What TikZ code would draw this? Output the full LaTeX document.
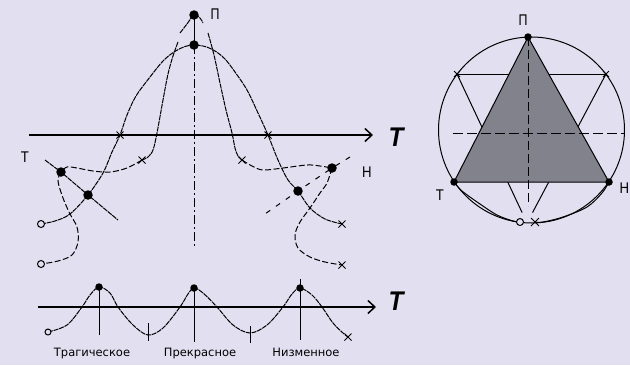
\documentclass[tikz,border=0pt]{standalone}
\usepackage{fontspec}
\usepackage{graphicx}
\setmainfont{DejaVu Sans}
\newfontfamily\labfont{Liberation Sans}
\usetikzlibrary{arrows.meta,calc,shapes.misc}
\definecolor{bg}{RGB}{226,224,240}
\definecolor{trifill}{RGB}{130,130,140}
\begin{document}
\begin{tikzpicture}[x=1pt,y=-1pt,line width=1pt,
  curveA/.style={line width=1pt,dash pattern=on 5pt off 0.8pt},
  curveB/.style={line width=1pt,dash pattern=on 6pt off 2.5pt},
  sparse/.style={line width=1pt,dash pattern=on 5pt off 7pt},
  dashdotv/.style={line width=1pt,dash pattern=on 9pt off 3pt on 2pt off 3pt},
  axisline/.style={line width=1.1pt,-{Straight Barb[length=7pt,width=13pt,line width=1.5pt]}},
  bigdot/.style={circle,fill=black,inner sep=0pt,minimum size=9.5pt},
  smalldot/.style={circle,fill=black,inner sep=0pt,minimum size=7.5pt},
  opendot/.style={circle,draw=black,fill=bg,line width=1pt,inner sep=0pt,minimum size=7pt},
  xm/.style={cross out,draw=black,line width=1pt,inner sep=0pt,minimum size=6pt},
  letter/.style={font=\labfont\fontsize{15.5}{15.5}\selectfont,inner sep=0pt},
  bigT/.style={font=\labfont\bfseries\itshape\fontsize{27}{27}\selectfont,inner sep=0pt},
  caption/.style={font=\fontsize{11.5}{12}\selectfont,inner sep=0pt,anchor=base}]
\fill[bg] (0,0) rectangle (630,365);
\useasboundingbox (0,0) rectangle (630,365);

% ---------- left diagram ----------
\coordinate (P0) at (194,15);
\coordinate (PA) at (194,45);
\coordinate (T) at (61,172);
\coordinate (L) at (88,195);
\coordinate (H) at (332,168);
\coordinate (R) at (298,191);
\coordinate (O1) at (41,224);
\coordinate (O2) at (41,264);
\coordinate (X1) at (342,224);
\coordinate (X2) at (342,265);
\coordinate (VB) at (194,248);

\draw[axisline] (29,135) coordinate (ax1) -- (373,135) coordinate (ax2);
\node[bigT] (TT1) at (396,137) {\scalebox{0.9}[1]{T}};

% bell A
\draw[curveA] plot[smooth,tension=0.55] coordinates {(O1) (55,221) (70,214) (L) (103,173) (112,152) (120,135) (127,115) (136,96) (150,77) (163,61) (174,52) (185,46.5) (PA) (205,46.5) (215,51) (225,59) (235,72) (247,90) (258,113) (268,135) (278,160) (288,180) (R) (310,208) (325,219) (X1)};

% bell B cap and sides
\draw[curveA] plot[smooth,tension=0.6] coordinates {(180,33) (187,24) (P0) (200,18) (203,23)};
\draw[curveA] plot[smooth,tension=0.55] coordinates {(178,42) (173,56) (168,74) (163,100) (157,133) (153,150) (148,157) (142,160)};
\draw[curveB] plot[smooth,tension=0.55] coordinates {(142,160) (127,168) (110,172) (93,171) (77,168) (67,167) (T)};
\draw[curveB] plot[smooth,tension=0.55] coordinates {(T) (58,181) (63,198) (70,214) (77,227) (78,242) (72,255) (58,261) (O2)};
\draw[curveA] plot[smooth,tension=0.55] coordinates {(208,33) (214,55) (220,83) (226,110) (232,133) (235,148) (238,156) (242,160)};
\draw[curveB] plot[smooth,tension=0.55] coordinates {(242,160) (252,166) (263,170) (283,168) (307,165) (320,166) (H)};
\draw[curveB] plot[smooth,tension=0.55] coordinates {(H) (327,183) (320,193) (310,208) (300,222) (295,235) (298,248) (310,257) (325,262) (X2)};

% tangents
\draw[curveA] (45,160) -- (T) -- (L) -- (118,220);
\draw[sparse] (350,157) -- (H) -- (R) -- (262,216);

% vertical axis
\draw (P0) -- (PA);
\draw[dashdotv] (PA) -- (VB);

% marks
\node[bigdot] (dP0) at (P0) {};
\node[bigdot] (dPA) at (PA) {};
\node[bigdot] (dT) at (T) {};
\node[bigdot] (dL) at (L) {};
\node[bigdot] (dH) at (H) {};
\node[bigdot] (dR) at (R) {};
\node[opendot] (o1) at (O1) {};
\node[opendot] (o2) at (O2) {};
\node[xm] (x1) at (X1) {};
\node[xm] (x2) at (X2) {};
\node[xm] (xa) at (120,135) {};
\node[xm] (xb) at (142,160) {};
\node[xm] (xc) at (242,160) {};
\node[xm] (xd) at (268,135) {};

\node[letter] (lT) at (25,157) {\scalebox{0.85}[1]{Т}};
\node[letter] (lH) at (367,172) {\scalebox{0.85}[1]{Н}};
\node[letter] (lP) at (215,14) {\scalebox{0.8}[1]{П}};

% ---------- bottom wave ----------
\draw[axisline] (38,307) coordinate (bx1) -- (376,307) coordinate (bx2);
\node[bigT] (TT2) at (396,301) {\scalebox{0.9}[1]{T}};
\coordinate (W0) at (48,332);
\coordinate (W1) at (99,287);
\coordinate (W2) at (194,288);
\coordinate (W3) at (300,288);
\coordinate (WE) at (348,337);
\draw[curveA] plot[smooth,tension=0.55] coordinates {(W0) (67,325) (82,307) (90,295) (W1) (110,293) (118,307) (133,325) (148,335) (163,328) (180,307) (188,294) (W2) (203,293) (217,307) (233,325) (250,333) (267,325) (283,307) (292,294) (W3) (312,295) (322,307) (333,323) (343,333) (WE)};
\draw (W1) -- (99,335);
\draw (W2) -- (194,342);
\draw (300,279) -- (300,340);
\draw (148,323) -- (148,341);
\draw (250,326) -- (250,343);
\node[smalldot] (w1) at (W1) {};
\node[smalldot] (w2) at (W2) {};
\node[smalldot] (w3) at (W3) {};
\node[opendot,minimum size=6pt] (w0) at (W0) {};
\node[xm] (we) at (WE) {};
\node[caption] (c1) at (92,356) {Трагическое};
\node[caption] (c2) at (200,356) {Прекрасное};
\node[caption] (c3) at (306,356) {Низменное};

% ---------- right diagram ----------
\coordinate (C) at (531.5,130);
\coordinate (P2) at (528,37);
\coordinate (T2) at (454,182);
\coordinate (H2) at (609,182);
\coordinate (U1) at (457,74);
\coordinate (U2) at (606,74);
\coordinate (B2) at (527,223);
\coordinate (O3) at (520,222);
\coordinate (X3) at (535,222);

\draw (C) circle[radius=93];
\draw (U1) -- (U2);
\draw (U1) -- ($(U1)!0.93!(B2)$);
\draw (U2) -- ($(U2)!0.93!(B2)$);
\draw[fill=trifill,line width=1pt] (P2) -- (T2) -- (H2) -- cycle;
\draw[dash pattern=on 9pt off 4pt] (P2) -- (528,206);
\draw[dash pattern=on 10pt off 4pt] (453,133) -- (624,133);
\draw plot[smooth,tension=0.55] coordinates {(T2) (462,191) (480,204) (497,215) (513,221) (O3)};
\draw plot[smooth,tension=0.55] coordinates {(H2) (602,193) (587,207) (563,217) (543,222) (X3)};
\node[smalldot] (p2) at (P2) {};
\node[smalldot] (t2) at (T2) {};
\node[smalldot] (h2) at (H2) {};
\node[xm,minimum size=5pt] (u1) at (U1) {};
\node[xm,minimum size=5pt] (u2) at (U2) {};
\node[opendot] (o3) at (O3) {};
\node[xm,minimum size=7pt] (x3) at (X3) {};
\node[letter] (lP2) at (523,20) {\scalebox{0.8}[1]{П}};
\node[letter] (lT2) at (440,195) {\scalebox{0.85}[1]{Т}};
\node[letter,anchor=west] (lH2) at (619,188) {\scalebox{0.85}[1]{Н}};
\end{tikzpicture}
\end{document}
